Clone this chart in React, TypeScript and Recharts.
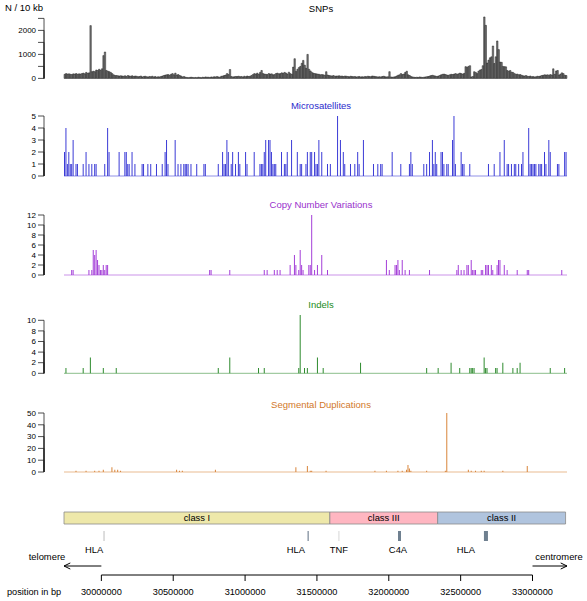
import React from 'react';
import {
  BarChart,
  Bar,
  XAxis,
  YAxis,
  ReferenceLine,
  ReferenceArea,
  ReferenceDot,
  ComposedChart,
} from 'recharts';

// 10 kb bins across the MHC region
const BIN_START = 29740000;
const BIN_SIZE = 10000;
const N_BINS = 350;
const BIN_END = BIN_START + N_BINS * BIN_SIZE;

// SNPs per 10 kb bin (one value per bin)
const snpCounts = [
  170, 200, 180, 190, 170, 160, 190, 180, 200, 170,
  190, 180, 200, 220, 190, 250, 210, 230, 2200, 280,
  300, 280, 350, 330, 380, 340, 400, 950, 1100, 330,
  300, 280, 250, 200, 150, 120, 120, 110, 100, 110,
  100, 90, 110, 80, 120, 100, 90, 110, 80, 100,
  90, 70, 80, 100, 60, 80, 90, 70, 60, 80,
  70, 90, 60, 80, 50, 70, 60, 80, 100, 120,
  140, 150, 160, 130, 170, 200, 150, 220, 140, 160,
  120, 100, 60, 80, 50, 40, 30, 40, 50, 40,
  30, 40, 30, 50, 40, 30, 50, 40, 60, 50,
  50, 40, 60, 50, 70, 60, 80, 60, 50, 90,
  100, 120, 140, 200, 160, 370, 80, 60, 70, 80,
  80, 90, 70, 80, 60, 90, 70, 100, 80, 90,
  120, 160, 200, 180, 220, 170, 250, 330, 200, 180,
  170, 160, 200, 180, 190, 150, 160, 200, 220, 190,
  200, 230, 210, 250, 220, 180, 260, 200, 170, 470,
  820, 290, 380, 450, 500, 630, 750, 550, 420, 1000,
  380, 310, 250, 220, 200, 190, 180, 170, 150, 160,
  150, 130, 280, 140, 120, 110, 100, 120, 90, 100,
  100, 110, 90, 100, 80, 100, 90, 80, 70, 90,
  80, 70, 80, 60, 70, 80, 60, 70, 60, 80,
  70, 90, 80, 70, 100, 90, 80, 70, 60, 70,
  60, 80, 90, 70, 60, 70, 280, 60, 50, 60,
  70, 100, 130, 150, 200, 160, 180, 250, 300, 150,
  120, 80, 60, 50, 40, 50, 40, 60, 50, 40,
  50, 60, 70, 80, 100, 120, 130, 110, 100, 80,
  100, 120, 150, 170, 180, 160, 140, 130, 150, 170,
  160, 180, 200, 170, 190, 220, 200, 180, 210, 490,
  460, 500, 530, 60, 80, 280, 250, 200, 300, 350,
  370, 530, 2560, 2210, 640, 760, 860, 900, 1350, 620,
  900, 1560, 1200, 680, 670, 500, 490, 480, 330, 300,
  330, 260, 250, 200, 170, 180, 150, 160, 130, 110,
  100, 120, 90, 80, 100, 70, 80, 60, 70, 90,
  80, 100, 120, 130, 150, 140, 150, 130, 160, 140,
  400, 170, 310, 330, 140, 180, 230, 200, 130, 120,
];

// sparse series: [bin index, count]
const microsatellites: [number, number][] = [
  [0, 2], [1, 4], [2, 1], [3, 2], [4, 1], [5, 1], [6, 3], [8, 1], [9, 1], [13, 1],
  [15, 2], [17, 1], [19, 1], [21, 1], [22, 1], [28, 1], [30, 4], [31, 2], [38, 2], [42, 2],
  [43, 2], [44, 1], [45, 1], [47, 2], [49, 1], [54, 1], [55, 1], [58, 1], [60, 1], [64, 1],
  [68, 1], [70, 2], [71, 3], [72, 1], [77, 3], [79, 1], [81, 1], [83, 1], [84, 1], [85, 1],
  [86, 1], [88, 1], [92, 1], [97, 1], [98, 1], [107, 1], [110, 2], [111, 1], [112, 1], [113, 3],
  [114, 2], [116, 1], [117, 2], [119, 1], [121, 2], [122, 1], [126, 2], [127, 1], [132, 2], [136, 1],
  [137, 1], [138, 1], [139, 2], [140, 3], [142, 3], [143, 3], [144, 2], [145, 1], [146, 1], [147, 1],
  [151, 2], [153, 1], [154, 1], [155, 2], [158, 3], [162, 2], [164, 1], [165, 1], [168, 1], [169, 2],
  [171, 2], [172, 2], [174, 2], [175, 1], [176, 1], [177, 3], [179, 2], [183, 1], [185, 1], [190, 5],
  [192, 3], [194, 2], [195, 1], [199, 1], [202, 1], [204, 2], [205, 1], [208, 3], [215, 1], [218, 1],
  [220, 1], [221, 1], [228, 2], [234, 1], [240, 1], [241, 2], [242, 1], [250, 1], [252, 1], [254, 2],
  [256, 3], [257, 1], [258, 2], [259, 1], [262, 2], [263, 2], [264, 1], [266, 1], [267, 1], [270, 3],
  [271, 5], [272, 1], [276, 2], [277, 1], [278, 1], [282, 1], [295, 1], [299, 1], [303, 2], [306, 3],
  [308, 1], [309, 1], [311, 1], [313, 1], [314, 1], [316, 1], [318, 1], [319, 2], [323, 4], [324, 1],
  [325, 1], [326, 1], [327, 1], [328, 1], [330, 1], [331, 1], [332, 1], [334, 2], [335, 1], [337, 3],
  [338, 2], [343, 1], [344, 1], [348, 2], [349, 2],
];

const copyNumberVariations: [number, number][] = [
  [5, 1], [6, 1], [17, 1], [19, 1], [20, 5], [21, 4], [22, 5], [23, 3], [24, 2], [25, 1],
  [26, 1], [27, 2], [28, 1], [29, 2], [30, 2], [101, 1], [102, 1], [115, 1], [139, 1], [141, 1],
  [146, 1], [148, 1], [150, 1], [157, 2], [160, 4], [161, 2], [163, 1], [164, 5], [165, 2], [166, 1],
  [170, 2], [171, 2], [172, 12], [174, 1], [176, 2], [179, 4], [183, 1], [224, 3], [226, 1], [230, 2],
  [231, 2], [232, 3], [233, 1], [235, 3], [237, 1], [240, 1], [254, 1], [273, 1], [274, 2], [276, 1],
  [278, 1], [280, 2], [281, 2], [283, 3], [284, 1], [285, 1], [286, 1], [290, 1], [291, 1], [293, 2],
  [294, 2], [295, 2], [297, 2], [298, 1], [301, 2], [302, 3], [303, 3], [306, 2], [308, 1], [315, 1],
  [322, 1], [323, 1], [346, 1],
];

const indels: [number, number][] = [
  [1, 1], [13, 1], [18, 3], [27, 1], [36, 1], [107, 1], [115, 3], [135, 1], [139, 1], [163, 1],
  [164, 11], [167, 1], [169, 1], [176, 3], [180, 1], [206, 2], [252, 1], [260, 1], [269, 2], [275, 1],
  [282, 1], [283, 1], [284, 1], [285, 1], [292, 3], [293, 1], [294, 1], [300, 1], [301, 1], [305, 2],
  [312, 1], [315, 1], [317, 2], [338, 1], [348, 1],
];

const segmentalDuplications: [number, number][] = [
  [8, 1], [15, 1], [21, 1], [24, 1], [27, 2], [33, 4], [35, 2], [37, 2], [39, 1], [78, 2],
  [80, 1], [82, 1], [105, 2], [161, 4], [169, 5], [171, 1], [172, 1], [182, 1], [216, 1], [224, 1],
  [232, 1], [235, 1], [238, 2], [239, 6], [240, 3], [241, 1], [252, 1], [265, 1], [266, 50], [281, 2],
  [283, 1], [286, 1], [290, 1], [292, 1], [305, 1], [322, 5],
];

// annotation track
const classNames = ['class I', 'class III', 'class II'];
const classStart = [29740000, 31590000, 32340000];
const classEnd = [31590000, 32340000, 33230000];

const geneNames = ['HLA', 'HLA', 'TNF', 'C4A', 'HLA'];
const geneStart = [30015000, 31434000, 31650000, 32064000, 32662000];
const geneEnd = [30022000, 31444000, 31656000, 32085000, 32690000];
const geneLabelPos = [29950000, 31354000, 31653000, 32064000, 32537000];

const positionTicks = [30000000, 30500000, 31000000, 31500000, 32000000, 32500000, 33000000];

const table: Record<string, number>[] = snpCounts.map((v, i) => ({
  bin: i,
  snp: v,
  msat: 0,
  cnv: 0,
  indel: 0,
  segdup: 0,
}));
const put = (pairs: [number, number][], key: string) =>
  pairs.forEach(([b, v]) => {
    table[b][key] = v;
  });
put(microsatellites, 'msat');
put(copyNumberVariations, 'cnv');
put(indels, 'indel');
put(segmentalDuplications, 'segdup');

const FONT = '"Liberation Sans", Arial, sans-serif';
const W = 587;
const PAD = 10;
const AXIS_X = 44;

interface PanelProps {
  title: string;
  color: string;
  titleColor: string;
  dataKey: string;
  titleY: number;
  y0: number;
  yTop: number;
  max: number;
  ticks: number[];
  labels: number[];
  baseline?: boolean;
  outlined?: boolean;
}

const Panel: React.FC<PanelProps> = ({
  title, color, titleColor, dataKey, titleY, y0, yTop, max, ticks, labels, baseline, outlined,
}) => {
  const top = yTop - PAD;
  const height = y0 - yTop + 2 * PAD;
  const zeroY = y0 - top;

  const renderTick = (p: any) => {
    const v = p.payload.value;
    return (
      <g>
        <line x1={AXIS_X} y1={p.y} x2={AXIS_X} y2={zeroY} stroke="#222" strokeWidth={0.8} />
        <line x1={AXIS_X - 6} y1={p.y} x2={AXIS_X} y2={p.y} stroke="#222" strokeWidth={0.8} />
        {labels.includes(v) && (
          <text x={AXIS_X - 8} y={p.y} dy="0.34em" textAnchor="end" fontSize={8} fill="#000">
            {v}
          </text>
        )}
      </g>
    );
  };

  return (
    <>
      <div
        style={{
          position: 'absolute', left: 221, width: 200, top: titleY - 7, lineHeight: '14px',
          textAlign: 'center', fontSize: 9.5, color: titleColor,
        }}
      >
        {title}
      </div>
      <div style={{ position: 'absolute', left: 0, top, width: W, height }}>
        <BarChart
          width={W}
          height={height}
          data={table}
          margin={{ top: PAD, right: 20, bottom: PAD, left: 0 }}
          barCategoryGap={0}
          barGap={0}
        >
          <XAxis dataKey="bin" hide />
          <YAxis
            width={64}
            type="number"
            domain={[0, max]}
            ticks={ticks}
            interval={0}
            axisLine={false}
            tickLine={false}
            tick={renderTick}
          />
          {baseline && <ReferenceLine y={0} stroke={color} strokeWidth={0.7} strokeOpacity={0.8} />}
          {outlined ? (
            <Bar
              dataKey={dataKey}
              fill={color}
              stroke="#111"
              strokeWidth={0.45}
              barSize={1.43}
              isAnimationActive={false}
            />
          ) : (
            <Bar dataKey={dataKey} fill={color} isAnimationActive={false} />
          )}
        </BarChart>
      </div>
    </>
  );
};

const arrowShape = (p: any) => {
  const { x1, y1, x2, y2 } = p;
  const len = Math.hypot(x2 - x1, y2 - y1) || 1;
  const bx = (x1 - x2) / len;
  const by = (y1 - y2) / len;
  const h = 7;
  const a = Math.PI / 7;
  const rot = (s: number) => [
    x2 + h * (bx * Math.cos(s * a) - by * Math.sin(s * a)),
    y2 + h * (bx * Math.sin(s * a) + by * Math.cos(s * a)),
  ];
  const [ax, ay] = rot(1);
  const [cx, cy] = rot(-1);
  return (
    <g stroke="#000" strokeWidth={1} fill="none">
      <line x1={x1} y1={y1} x2={x2} y2={y2} />
      <polyline points={`${ax},${ay} ${x2},${y2} ${cx},${cy}`} />
    </g>
  );
};

const PositionTick = (p: any) => (
  <g>
    <line x1={p.x} y1={p.y} x2={p.x} y2={p.y + 6} stroke="#000" strokeWidth={1} />
    <text x={p.x} y={p.y + 17} dy="0.34em" textAnchor="middle" fontSize={9.2} fill="#000">
      {p.payload.value}
    </text>
  </g>
);

const geneFill = ['#bdbdbd', '#8e9aa8', '#cfcfcf', '#6f8090', '#6f8090'];
const classFill = ['#eee8aa', '#ffb6c1', '#b0c4de'];

const Annotation: React.FC = () => {
  const data = positionTicks.map((t) => ({ pos: t }));
  return (
    <div style={{ position: 'absolute', left: 0, top: 495, width: W, height: 106 }}>
      <ComposedChart
        width={W}
        height={106}
        data={data}
        margin={{ top: 10, right: 20, bottom: 0, left: 64 }}
      >
        <XAxis
          dataKey="pos"
          type="number"
          domain={[BIN_START, BIN_END]}
          ticks={positionTicks}
          interval={0}
          allowDataOverflow
          axisLine={false}
          tickLine={false}
          tickSize={0}
          tickMargin={0}
          height={26}
          tick={PositionTick}
        />
        <YAxis hide type="number" domain={[0, 70]} allowDataOverflow />
        {classNames.map((c, i) => (
          <ReferenceArea
            key={c}
            x1={classStart[i]}
            x2={classEnd[i]}
            y1={51}
            y2={63}
            fill={classFill[i]}
            fillOpacity={1}
            stroke="#8a8a8a"
            strokeWidth={0.8}
            ifOverflow="visible"
            label={{ value: c, position: 'center', fontSize: 9.4, fill: '#000' }}
          />
        ))}
        {geneNames.map((g, i) => (
          <ReferenceArea
            key={`g${i}`}
            x1={geneStart[i]}
            x2={geneEnd[i]}
            y1={34}
            y2={44}
            fill={geneFill[i]}
            fillOpacity={1}
            stroke="none"
            ifOverflow="visible"
          />
        ))}
        {geneNames.map((g, i) => (
          <ReferenceDot
            key={`l${i}`}
            x={geneLabelPos[i]}
            y={25}
            r={0}
            fill="none"
            stroke="none"
            ifOverflow="visible"
            label={{ value: g, position: 'center', fontSize: 9.4, fill: '#000' }}
          />
        ))}
        <ReferenceLine
          segment={[{ x: positionTicks[0], y: 9 }, { x: BIN_START, y: 9 }]}
          ifOverflow="visible"
          shape={arrowShape}
        />
        <ReferenceLine
          segment={[{ x: positionTicks[positionTicks.length - 1], y: 9 }, { x: BIN_END, y: 9 }]}
          ifOverflow="visible"
          shape={arrowShape}
        />
        <ReferenceLine
          segment={[{ x: positionTicks[0], y: 0 }, { x: positionTicks[positionTicks.length - 1], y: 0 }]}
          ifOverflow="visible"
          stroke="#000"
          strokeWidth={1}
        />
      </ComposedChart>
    </div>
  );
};

const textStyle: React.CSSProperties = { position: 'absolute', lineHeight: '14px', whiteSpace: 'nowrap' };

const App: React.FC = () => (
  <div
    style={{
      position: 'absolute', left: 0, top: 0, width: W, height: 601,
      background: '#fff', fontFamily: FONT, overflow: 'hidden',
    }}
  >
    <div style={{ ...textStyle, left: 5, top: 1, fontSize: 9.5 }}>N / 10 kb</div>
    <Panel
      title="SNPs" color="#7a7a7a" titleColor="#000" dataKey="snp" titleY={9}
      y0={78} yTop={15.6} max={2600} ticks={[0, 500, 1000, 1500, 2000, 2500]} labels={[0, 1000, 2000]}
      outlined
    />
    <Panel
      title="Microsatellites" color="#3b3bd6" titleColor="#2a2acc" dataKey="msat" titleY={106}
      y0={176} yTop={116} max={5} ticks={[0, 1, 2, 3, 4, 5]} labels={[0, 1, 2, 3, 4, 5]} baseline
    />
    <Panel
      title="Copy Number Variations" color="#a43fd8" titleColor="#9932cc" dataKey="cnv" titleY={205}
      y0={275} yTop={215} max={12} ticks={[0, 2, 4, 6, 8, 10, 12]} labels={[0, 2, 4, 6, 8, 10, 12]} baseline
    />
    <Panel
      title="Indels" color="#2e8b2e" titleColor="#228b22" dataKey="indel" titleY={305}
      y0={373} yTop={314.7} max={11} ticks={[0, 2, 4, 6, 8, 10]} labels={[0, 2, 4, 6, 8, 10]} baseline
    />
    <Panel
      title="Segmental Duplications" color="#d8843a" titleColor="#d2782a" dataKey="segdup" titleY={405}
      y0={472} yTop={413} max={50} ticks={[0, 10, 20, 30, 40, 50]} labels={[0, 10, 20, 30, 40, 50]} baseline
    />
    <Annotation />
    <div style={{ ...textStyle, left: 0, width: 94, top: 550, textAlign: 'center', fontSize: 9.4 }}>telomere</div>
    <div style={{ ...textStyle, left: 512, width: 94, top: 550, textAlign: 'center', fontSize: 9.4 }}>centromere</div>
    <div style={{ ...textStyle, left: 7, top: 585, fontSize: 9.2 }}>position in bp</div>
  </div>
);

export default App;
